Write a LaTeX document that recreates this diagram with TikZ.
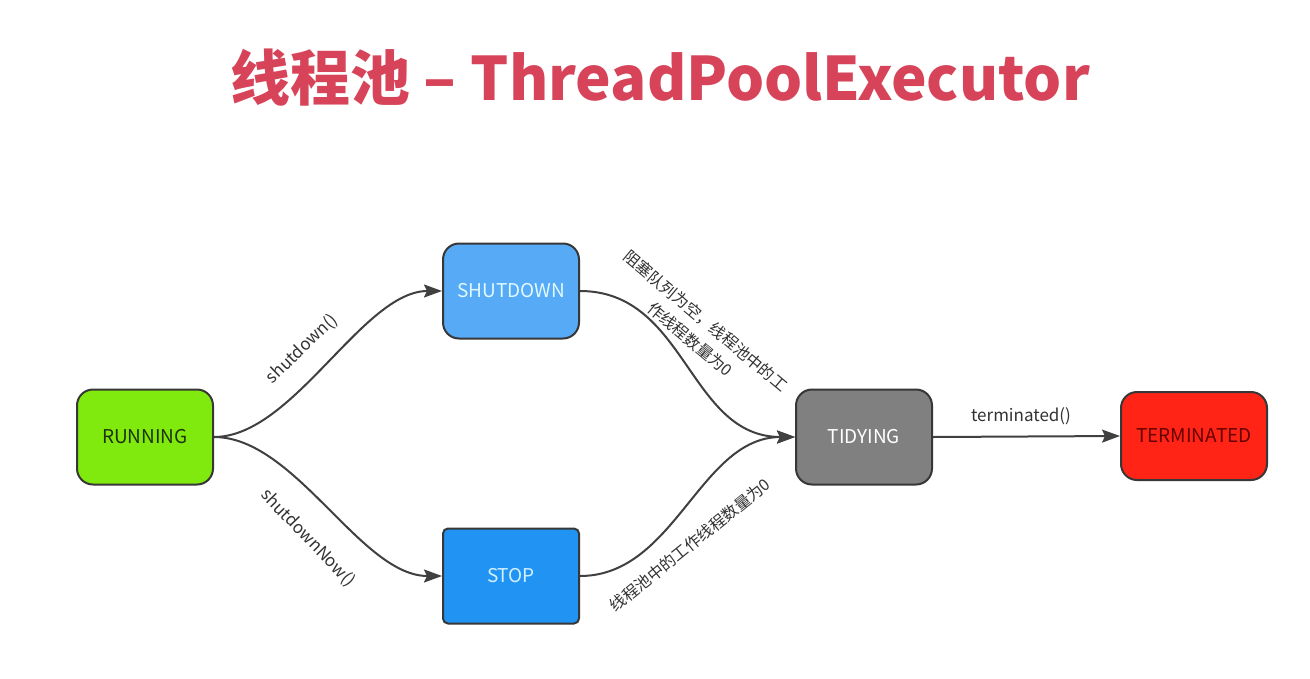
\documentclass[tikz,border=0pt]{standalone}
\usepackage{fontspec}
\setmainfont{Noto Sans CJK SC}
\usetikzlibrary{arrows.meta}
\definecolor{titlered}{RGB}{215,68,90}
\definecolor{bordergray}{RGB}{55,55,55}
\definecolor{linegray}{RGB}{64,64,64}
\definecolor{rungreen}{RGB}{128,234,14}
\definecolor{runtext}{RGB}{30,50,10}
\definecolor{shutblue}{RGB}{86,170,246}
\definecolor{shuttext}{RGB}{225,250,255}
\definecolor{stopblue}{RGB}{33,148,243}
\definecolor{stoptext}{RGB}{210,240,255}
\definecolor{tidygray}{RGB}{128,128,128}
\definecolor{termred}{RGB}{255,36,22}
\definecolor{termtext}{RGB}{100,0,0}
\definecolor{labeltext}{RGB}{50,50,50}
\begin{document}
\begin{tikzpicture}[x=1pt,y=-1pt,
  statebox/.style={draw=bordergray, line width=2pt, rounded corners=16pt,
    minimum width=136pt, minimum height=95pt, inner sep=0pt,
    font=\fontsize{19}{22}\selectfont},
  conn/.style={draw=linegray, line width=2pt,
    -{Stealth[length=18pt,width=13pt,inset=3pt]}},
  edgelabel/.style={text=labeltext, inner sep=0pt,
    font=\fontsize{17}{24}\selectfont},
  cjklabel/.style={text=labeltext, inner sep=0pt, align=center,
    font=\fontsize{16}{24}\selectfont}
]
\useasboundingbox[fill=white] (0,0) rectangle (1310,678);

\node[anchor=base, text=titlered, font=\fontsize{60}{70}\selectfont\bfseries]
  (title) at (660,100) {线程池 – ThreadPoolExecutor};

\node[statebox, fill=rungreen, text=runtext] (run) at (145,437) {RUNNING};
\node[statebox, fill=shutblue, text=shuttext] (shut) at (511,291) {SHUTDOWN};
\node[statebox, fill=stopblue, text=stoptext, rounded corners=5pt] (stop) at (511,576) {STOP};
\node[statebox, fill=tidygray, text=white] (tidy) at (864,437) {TIDYING};
\node[statebox, fill=termred, text=termtext, minimum width=146pt, minimum height=88pt] (term) at (1194,436) {TERMINATED};

\draw[conn] (run.east) to[out=0,in=180,looseness=0.75] (shut.west);
\draw[conn] (run.east) to[out=0,in=180,looseness=0.78] (stop.west);
\draw[conn] (shut.east) to[out=0,in=180,looseness=1.05] (tidy.west);
\draw[conn] (stop.east) to[out=0,in=180,looseness=0.95] (tidy.west);
\draw[conn] (tidy.east) -- (term.west);

\node[edgelabel, rotate=44] (l1) at (302,349) {shutdown()};
\node[edgelabel, rotate=-46] (l2) at (308,538) {shutdownNow()};
\node[cjklabel, rotate=-40] (l3) at (698,330) {阻塞队列为空，线程池中的工\\作线程数量为0};
\node[cjklabel, rotate=39] (l4) at (690,545) {线程池中的工作线程数量为0};
\node[edgelabel] (l5) at (1021,416) {terminated()};
\end{tikzpicture}
\end{document}
